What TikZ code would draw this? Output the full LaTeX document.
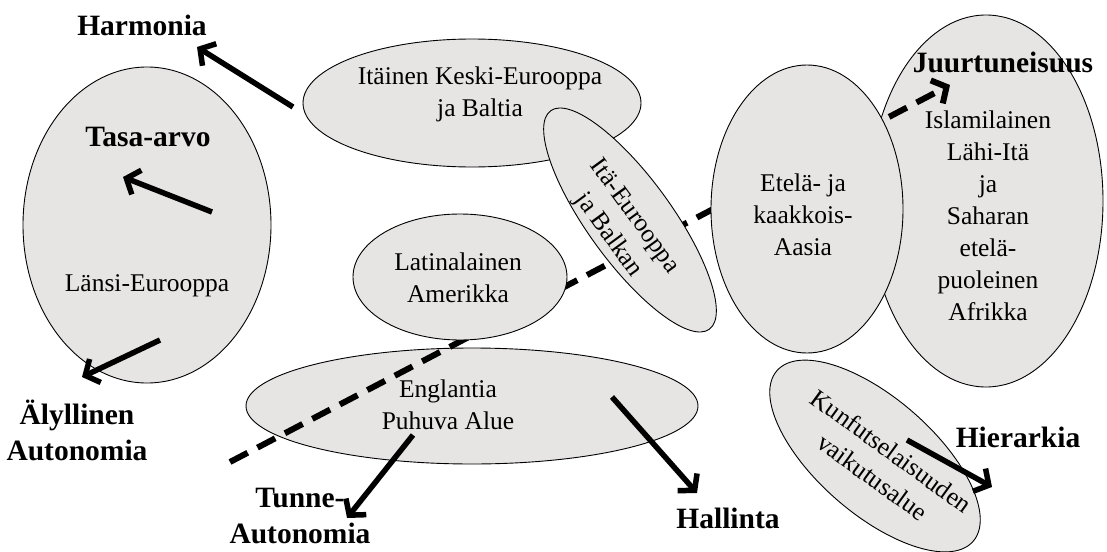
\documentclass[tikz,border=0pt]{standalone}
\usepackage{fontspec}
\setmainfont{Liberation Serif}
\usetikzlibrary{shapes.geometric,arrows.meta}
\definecolor{regfill}{RGB}{231,228,228}
\begin{document}
\begin{tikzpicture}[x=1pt,y=-1pt,
 region/.style={ellipse, draw=black, line width=0.9pt, fill=regfill, inner sep=0pt},
 lbl/.style={font=\fontsize{25.5}{32}\selectfont, align=center, inner sep=0pt},
 key/.style={font=\fontsize{29.5}{36}\selectfont\bfseries, align=center, inner sep=0pt},
 force/.style={line width=5.5pt, -{Straight Barb[length=11pt,width=26pt]}},
 axisline/.style={line width=6pt, dash pattern=on 20pt off 11pt, -{Straight Barb[length=11pt,width=26pt]}}]
\useasboundingbox (0,0) rectangle (1107,551);

% regions drawn below the dashed axis
\node[region, minimum width=248pt, minimum height=316pt] (lansi) at (147,225) {};
\node[region, minimum width=338pt, minimum height=128pt] (keski) at (472,103) {};
\node[region, minimum width=452pt, minimum height=116pt] (englanti) at (472,406) {};
\node[region, minimum width=234pt, minimum height=372pt] (islam) at (986,201) {};
\node[region, minimum width=260pt, minimum height=116pt, rotate=-41] (kunfu) at (875,456) {};

% dashed axis
\coordinate (axstart) at (230,462);
\coordinate (axend) at (950,85);
\draw[axisline] (axstart) -- (axend);

% regions drawn above the dashed axis
\node[region, minimum width=214pt, minimum height=126pt] (latin) at (460,277) {};
\node[region, minimum width=270pt, minimum height=84pt, rotate=-54] (itae) at (630,220) {};
\node[region, minimum width=192pt, minimum height=288pt] (etela) at (807,209) {};

% region texts
\node[lbl] (tkeski) at (480,94) {Itäinen Keski-Eurooppa\\ja Baltia};
\node[lbl] (tlatin) at (458,278) {Latinalainen\\Amerikka};
\node[lbl] (tengl) at (448,405) {Englantia\\Puhuva Alue};
\node[lbl] (tetela) at (803,215) {Etelä- ja\\kaakkois-\\Aasia};
\node[lbl] (tislam) at (988,216) {Islamilainen\\Lähi-Itä\\ja\\Saharan\\etelä-\\puoleinen\\Afrikka};
\node[lbl] (tlansi) at (147,286) {Länsi-Eurooppa};
\node[lbl, rotate=-54] (titae) at (621,226) {Itä-Eurooppa\\ja Balkan};
\node[lbl, rotate=-36] (tkunfu) at (882,464) {Kunfutselaisuuden\\vaikutusalue};

% value labels
\node[key] (harmonia) at (142,25) {Harmonia};
\node[key] (tasa) at (148,137) {Tasa-arvo};
\node[key] (alyl) at (77,430) {Älyllinen\\Autonomia};
\node[key] (tunne) at (300,516) {Tunne-\\Autonomia};
\node[key] (hallinta) at (728,518) {Hallinta};
\node[key] (hier) at (1018,437) {Hierarkia};
\node[key] (juur) at (1003,62) {Juurtuneisuus};

% arrows
\coordinate (a1s) at (293,107); \coordinate (a1e) at (197,47);
\coordinate (a2s) at (212,212); \coordinate (a2e) at (123,177);
\coordinate (a3s) at (160,340); \coordinate (a3e) at (82,377);
\coordinate (a4s) at (413,435); \coordinate (a4e) at (347,518);
\coordinate (a5s) at (612,397); \coordinate (a5e) at (697,493);
\coordinate (a6s) at (907,440); \coordinate (a6e) at (992,487);
\draw[force] (a1s) -- (a1e);
\draw[force] (a2s) -- (a2e);
\draw[force] (a3s) -- (a3e);
\draw[force] (a4s) -- (a4e);
\draw[force] (a5s) -- (a5e);
\draw[force] (a6s) -- (a6e);
\end{tikzpicture}
\end{document}
